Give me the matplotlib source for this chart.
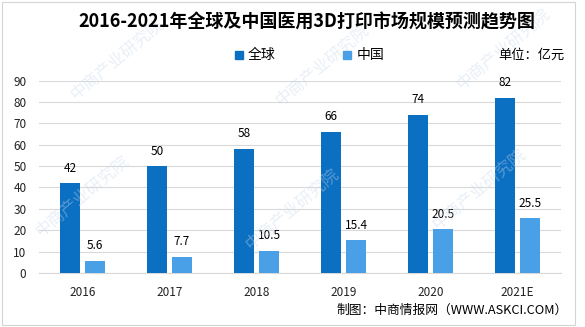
import numpy as np
import matplotlib.pyplot as plt

plt.rcParams['font.family'] = ['Noto Sans CJK SC', 'DejaVu Sans']

# 数据
years = ['2016', '2017', '2018', '2019', '2020', '2021E']
global_vals = [42, 50, 58, 66, 74, 82]
china_vals = [5.6, 7.7, 10.5, 15.4, 20.5, 25.5]
global_labels = ['42', '50', '58', '66', '74', '82']
china_labels = ['5.6', '7.7', '10.5', '15.4', '20.5', '25.5']

c_global = '#0B6FC2'
c_china = '#4AA0E6'

W, H = 585, 327
fig = plt.figure(figsize=(W/100, H/100), dpi=100)
ax = fig.add_axes([39/W, 1-273/H, 522/W, 192.4/H])

x = np.arange(len(years))
w = 0.23
off = 0.144
ax.bar(x - off, global_vals, w, color=c_global, zorder=3)
ax.bar(x + off, china_vals, w, color=c_china, zorder=3)

for i in range(len(years)):
    ax.text(x[i] - off, global_vals[i] + 4, global_labels[i], ha='center', va='bottom', fontsize=8.5)
    ax.text(x[i] + off, china_vals[i] + 4, china_labels[i], ha='center', va='bottom', fontsize=8.5)

ax.set_xlim(-0.5, len(years) - 0.5)
ax.set_ylim(0, 90)
ax.set_yticks(range(0, 91, 10))
ax.set_xticks(x)
ax.set_xticklabels(years)
ax.tick_params(axis='both', length=0, labelsize=8.5, colors='#222222')
ax.tick_params(axis='x', pad=9)
ax.tick_params(axis='y', pad=9)
ax.grid(axis='y', color='#D9D9D9', linewidth=0.8, zorder=0)
for s in ['top', 'right', 'left']:
    ax.spines[s].set_visible(False)
ax.spines['bottom'].set_color('#D9D9D9')

# 外框
fig.patches.append(plt.Rectangle((2/W, 1-325/H), 573/W, 323/H, fill=False,
                                 edgecolor='#D4D4D4', linewidth=0.8, transform=fig.transFigure))

# 标题、图例、单位、来源
fig.text(307/W, 1-22/H, '2016-2021年全球及中国医用3D打印市场规模预测趋势图',
         ha='center', va='center', fontsize=13, fontweight='bold')
fig.patches.append(plt.Rectangle((235/W, 1-59/H), 8/W, 8/H, color=c_global, transform=fig.transFigure))
fig.text(248/W, 1-55/H, '全球', ha='left', va='center', fontsize=10)
fig.patches.append(plt.Rectangle((343/W, 1-59/H), 8/W, 8/H, color=c_china, transform=fig.transFigure))
fig.text(357/W, 1-55/H, '中国', ha='left', va='center', fontsize=10)
fig.text(565/W, 1-55/H, '单位：亿元', ha='right', va='center', fontsize=9.5)
fig.text(568/W, 1-310/H, '制图：中商情报网（WWW.ASKCI.COM）', ha='right', va='center', fontsize=9.2)

# 水印
for (wx, wy) in [(0.14, 0.4), (0.5, 0.36), (0.82, 0.42), (0.2, 0.82), (0.55, 0.8), (0.86, 0.85)]:
    fig.text(wx, wy, '中商产业研究院', rotation=40, fontsize=12, color='#C8D8EA',
             alpha=0.4, ha='center', va='center', zorder=0)

fig.savefig('out.png', dpi=100)
